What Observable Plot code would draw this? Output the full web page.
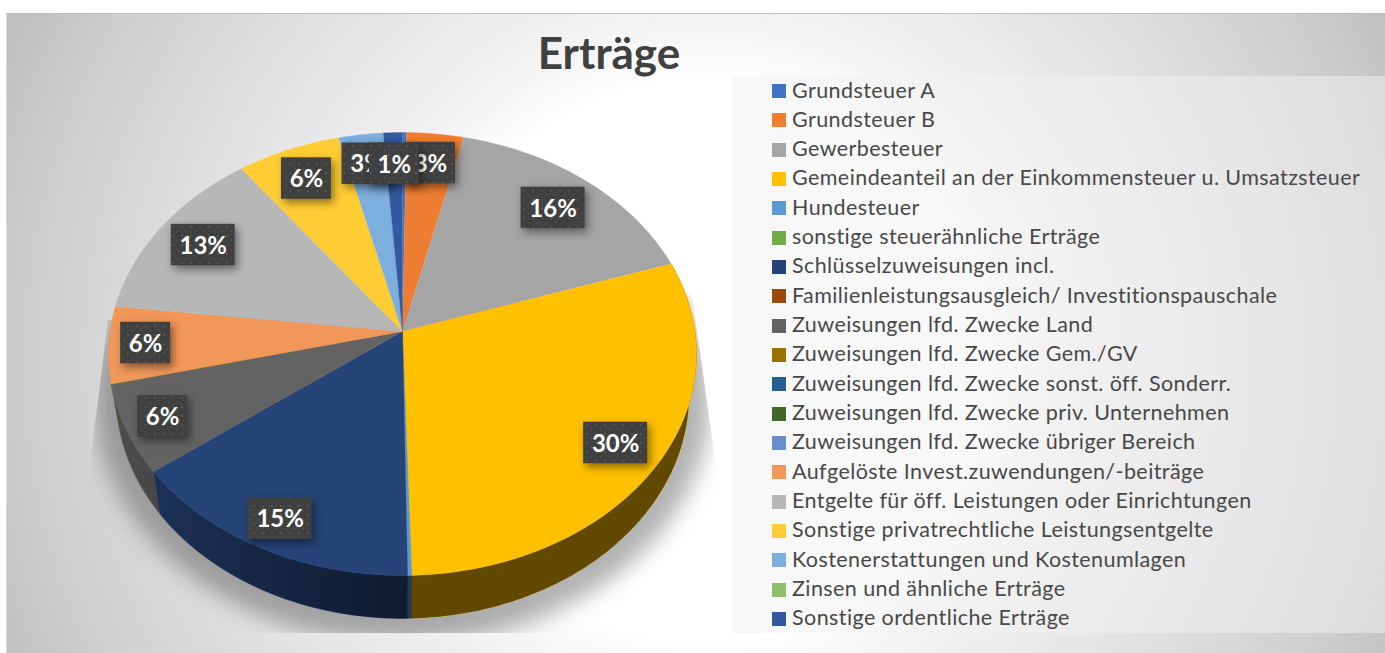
<!DOCTYPE html>
<html lang="de">
<head>
<meta charset="utf-8">
<title>Erträge</title>
<script src="https://cdn.jsdelivr.net/npm/d3@7"></script>
<script src="https://cdn.jsdelivr.net/npm/@observablehq/plot@0.6"></script>
<style>
  html, body { margin: 0; padding: 0; background: #fff; }
  #stage { position: relative; width: 1385px; height: 653px; overflow: hidden; font-family: Lato, "Open Sans", sans-serif; }
  #bg { position: absolute; left: 6px; top: 13px; right: 0; bottom: 0; box-sizing: border-box;
        border-top: 1.5px solid #bdbdbd; border-left: 1.5px solid #dcdcdc;
        background: radial-gradient(circle at 699px 347px, #fff 0, #fff 280px, #f3f3f3 345px, #e0e0e0 525px, #cdcdcd 686px, #c0c0c0 763px); }
  #panel { position: absolute; left: 732px; top: 76px; width: 653px; height: 557px; background: rgba(242,242,242,.5); }
  #shadow, #chart { position: absolute; left: 0; top: 0; width: 1385px; height: 653px; }
  #shadow { clip-path: polygon(108px 320px, 692px 295px, 718px 480px, 736px 633px, 66px 633px, 88px 480px); }
  #shadow svg, #chart svg { background: transparent; display: block; }
  #title { position: absolute; left: 409px; width: 400px; top: 25px; margin: 0; text-align: center;
           font: 700 44px/54px Lato, sans-serif; color: #404040; }
  #legend { position: absolute; left: 772px; top: 75.5px; margin: 0; padding: 0; list-style: none; }
  #legend li { position: relative; height: 29.33px; line-height: 29.33px; white-space: nowrap;
               font-size: 21.5px; color: #484848; padding-left: 20px; letter-spacing: 0.42px; }
  #legend i { position: absolute; left: 0; top: 8.5px; width: 14px; height: 14px; }
</style>
</head>
<body>
<div id="stage">
  <div id="bg"></div>
  <div id="shadow"></div>
  <div id="panel"></div>
  <div id="chart"></div>
  <h1 id="title"></h1>
  <ul id="legend"></ul>
</div>
<script>
// ---- data ----
const title = "Erträge";
const categories = [
  "Grundsteuer A", "Grundsteuer B", "Gewerbesteuer",
  "Gemeindeanteil an der Einkommensteuer u. Umsatzsteuer", "Hundesteuer",
  "sonstige steuerähnliche Erträge", "Schlüsselzuweisungen incl.",
  "Familienleistungsausgleich/ Investitionspauschale", "Zuweisungen lfd. Zwecke Land",
  "Zuweisungen lfd. Zwecke Gem./GV", "Zuweisungen lfd. Zwecke sonst. öff. Sonderr.",
  "Zuweisungen lfd. Zwecke priv. Unternehmen", "Zuweisungen lfd. Zwecke übriger Bereich",
  "Aufgelöste Invest.zuwendungen/-beiträge", "Entgelte für öff. Leistungen oder Einrichtungen",
  "Sonstige privatrechtliche Leistungsentgelte", "Kostenerstattungen und Kostenumlagen",
  "Zinsen und ähnliche Erträge", "Sonstige ordentliche Erträge"
];
const values = [0.24, 3.46, 16.15, 29.7, 0.2, 0, 15, 0, 6.45, 0.05, 0, 0, 0, 5.6, 13, 6.3, 2.7, 0, 1.15];
const colors = ["#4472c4", "#ed7d31", "#a5a5a5", "#ffc000", "#5b9bd5", "#70ad47", "#264478", "#9e480e",
  "#636363", "#997300", "#255e91", "#43682b", "#698ed0", "#f1975a", "#b7b7b7", "#ffcd33", "#7cafdd", "#8cc168", "#335aa1"];
const labels = ["3%", "16%", "30%", "15%", "6%", "6%", "13%", "6%", "3%", "1%"];
const labelled = [1, 2, 3, 6, 8, 13, 14, 15, 16, 18];
const labelRadius = [0.84, 0.81, 0.845, 0.875, 0.873, 0.875, 0.82, 0.83, 0.84, 0.83];

// ---- layout of the tilted disc ----
const R = 292.5, cx = 402, cy = 331, W = 1385, H = 653;
const persp = 0.1016;
const topDisc = {r: 1, ry: 219.2 / R, dy: 0};
const lowDisc = {r: 285 / R, ry: 221 / R, dy: 41 / R};
const shadowDisc = {r: 306 / R, ry: 240 / R, dy: 44 / R};
const project = (p, rad, d) => {
  const t = 2 * Math.PI * p / 100, u = rad * Math.sin(t), v = -rad * Math.cos(t), w = 1 - persp * v;
  return {x: d.r * u / w, y: d.dy + d.ry * v / w};
};
const arc = (p0, p1, d) => {
  const n = Math.max(2, Math.ceil(Math.abs(p1 - p0) * 4));
  return d3.range(n + 1).map(i => project(p0 + (p1 - p0) * i / n, 1, d));
};

let acc = 0;
const slices = categories.map((name, i) => {
  const s = {name, start: acc, end: acc + values[i], i};
  acc += values[i];
  return s;
}).filter(s => s.end > s.start);

const topFaces = slices.flatMap(s => [{x: 0, y: 0}, ...arc(s.start, s.end, topDisc)].map(p => ({...p, name: s.name})));
// the side wall is visible from the end of the third slice to the end of "Gem./GV"
const wallFrom = slices.find(s => s.i === 2).end, wallTo = slices.find(s => s.i === 9).end;
const wallPoly = (a, b) => [...arc(a, b, topDisc), ...arc(b, a, lowDisc)];
const walls = slices.flatMap(s => {
  const a = Math.max(s.start, wallFrom), b = Math.min(s.end, wallTo);
  return b > a ? wallPoly(a, b).map(p => ({...p, name: s.name})) : [];
});
const wallShade = wallPoly(wallFrom, wallTo);
const shadow = arc(0, 100, shadowDisc);

const defs = () => {
  const el = document.createElementNS("http://www.w3.org/2000/svg", "defs");
  el.innerHTML = `
    <linearGradient id="wallGrad" gradientUnits="userSpaceOnUse" x1="110" x2="410" y1="0" y2="0">
      <stop offset="0" stop-color="#000" stop-opacity=".22"/>
      <stop offset="1" stop-color="#000" stop-opacity=".62"/>
    </linearGradient>
    <pattern id="dots" patternUnits="userSpaceOnUse" width="9" height="9">
      <rect width="9" height="9" fill="#404040"/>
      <circle cx="2" cy="2" r="0.9" fill="#5c5c5c"/>
      <circle cx="6.5" cy="6.5" r="0.9" fill="#4e4e4e"/>
    </pattern>`;
  return el;
};

const labelMarks = labels.flatMap((text, j) => {
  const s = slices.find(d => d.i === labelled[j]);
  const c = project((s.start + s.end) / 2, labelRadius[j], topDisc);
  const hw = (text.length === 2 ? 25 : 32) / R, hh = 20.75 / R;
  const d = [{...c, text}];
  return [
    Plot.rect(d, {x1: e => e.x - hw, x2: e => e.x + hw, y1: e => e.y - hh, y2: e => e.y + hh,
      fill: "url(#dots)", imageFilter: "drop-shadow(3px 4px 4px rgba(0,0,0,.45))"}),
    Plot.text(d, {x: "x", y: "y", text: "text", fill: "#fff", fontSize: 24, fontWeight: 700, fontFamily: "Lato, sans-serif", dy: 1})
  ];
});

const frame = {
  width: W, height: H,
  margin: 0,
  style: {background: "transparent", overflow: "visible"},
  x: {type: "linear", domain: [-cx / R, (W - cx) / R], range: [0, W], axis: null},
  y: {type: "linear", domain: [-cy / R, (H - cy) / R], range: [0, H], axis: null},
  color: {type: "ordinal", domain: categories, range: colors}
};

document.getElementById("shadow").appendChild(Plot.plot({
  ...frame,
  marks: [Plot.line(shadow, {x: "x", y: "y", fill: "#2a2a2a", fillOpacity: 0.36, stroke: "none", imageFilter: "blur(11px)"})]
}));

document.getElementById("chart").appendChild(Plot.plot({
  ...frame,
  marks: [
    defs,
    Plot.line(walls, {x: "x", y: "y", z: "name", fill: "name", stroke: "name", strokeWidth: 0.3}),
    Plot.line(wallShade, {x: "x", y: "y", fill: "url(#wallGrad)", stroke: "none"}),
    Plot.line(topFaces, {x: "x", y: "y", z: "name", fill: "name", stroke: "name", strokeWidth: 0.3}),
    ...labelMarks
  ]
}));

document.getElementById("title").textContent = title;
const legend = d3.select("#legend");
categories.forEach((name, i) => {
  const li = legend.append("li");
  li.append("i").style("background", colors[i]);
  li.append("span").text(name);
});
</script>
</body>
</html>
